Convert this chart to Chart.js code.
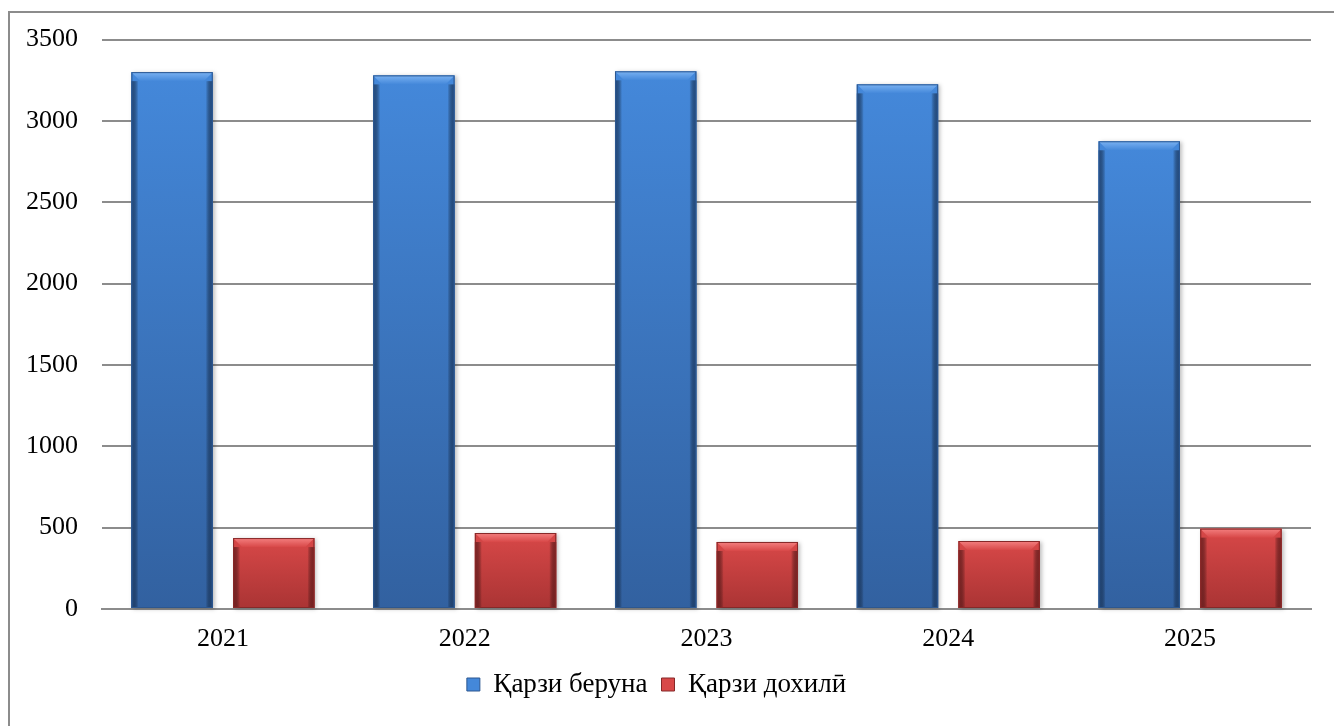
<!DOCTYPE html>
<html>
<head>
<meta charset="utf-8">
<script src="https://cdn.jsdelivr.net/npm/chart.js@4/dist/chart.umd.min.js"></script>
<style>
html,body{margin:0;padding:0;background:#fff;}
#wrap{width:1334px;height:726px;position:relative;}
</style>
</head>
<body>
<div id="wrap"><canvas id="c" width="1334" height="726"></canvas></div>
<script>
const categories = ['2021', '2022', '2023', '2024', '2025'];
const seriesNames = ['Қарзи беруна', 'Қарзи дохилӣ'];
const externalDebt = [3300, 3280, 3305, 3225, 2875];
const domesticDebt = [436, 467, 412, 418, 494];
const yTicks = [0, 500, 1000, 1500, 2000, 2500, 3000, 3500];

const FONT = '"Liberation Serif", "Times New Roman", serif';

const palettes = [
  {top: '#4488da', bottom: '#3261a0', light: '#7ab2f2', dark: '#264f86', edge: '#2c5790'},
  {top: '#d84848', bottom: '#aa3434', light: '#f48080', dark: '#862626', edge: '#862828'}
];

const frame = {
  id: 'frame',
  beforeDraw(chart) {
    const c = chart.ctx;
    c.save();
    c.fillStyle = '#fff';
    c.fillRect(0, 0, chart.width, chart.height);
    c.strokeStyle = '#8c8c8c';
    c.lineWidth = 2;
    c.strokeRect(9, 12, chart.width + 20, chart.height + 20);
    c.restore();
  }
};

const bevel = {
  id: 'bevel',
  afterDatasetsDraw(chart) {
    const c = chart.ctx;
    chart.data.datasets.forEach((ds, i) => {
      const meta = chart.getDatasetMeta(i);
      const p = palettes[i];
      meta.data.forEach(bar => {
        const w = bar.width;
        const l = bar.x - w / 2, r = bar.x + w / 2;
        const t = bar.y, b = bar.base;
        const h = b - t;
        const bv = Math.min(9, h / 4);
        c.save();
        c.shadowColor = 'rgba(0,0,0,0.25)';
        c.shadowBlur = 4;
        c.shadowOffsetX = 2;
        c.shadowOffsetY = 1;
        let g = c.createLinearGradient(0, t, 0, b);
        g.addColorStop(0, p.top);
        g.addColorStop(1, p.bottom);
        c.fillStyle = g;
        c.fillRect(l, t, w, h);
        c.shadowColor = 'rgba(0,0,0,0)';
        g = c.createLinearGradient(l, 0, l + 7, 0);
        g.addColorStop(0, p.dark);
        g.addColorStop(1, 'rgba(0,0,0,0)');
        c.fillStyle = g;
        c.fillRect(l, t + bv, 7, h - bv);
        g = c.createLinearGradient(r - 7, 0, r, 0);
        g.addColorStop(0, 'rgba(0,0,0,0)');
        g.addColorStop(1, p.dark);
        c.fillStyle = g;
        c.fillRect(r - 7, t + bv, 7, h - bv);
        c.beginPath();
        c.moveTo(l, t);
        c.lineTo(r, t);
        c.lineTo(r - bv, t + bv);
        c.lineTo(l + bv, t + bv);
        c.closePath();
        g = c.createLinearGradient(0, t, 0, t + bv);
        g.addColorStop(0, p.light);
        g.addColorStop(1, p.top);
        c.fillStyle = g;
        c.fill();
        c.strokeStyle = p.edge;
        c.lineWidth = 1;
        c.strokeRect(l + 0.5, t + 0.5, w - 1, h - 1);
        c.restore();
      });
    });
  }
};

new Chart(document.getElementById('c'), {
  type: 'bar',
  data: {
    labels: categories,
    datasets: [
      {label: seriesNames[0], data: externalDebt, backgroundColor: palettes[0].top, borderWidth: 0},
      {label: seriesNames[1], data: domesticDebt, backgroundColor: palettes[1].top, borderWidth: 0}
    ]
  },
  options: {
    responsive: false,
    animation: false,
    devicePixelRatio: 1,
    categoryPercentage: 0.841,
    barPercentage: 0.80,
    layout: {padding: {left: 2, right: 23, top: 38, bottom: 18}},
    plugins: {
      legend: {
        position: 'bottom',
        labels: {
          usePointStyle: true,
          pointStyle: 'rect',
          pointStyleWidth: 13,
          boxHeight: 13,
          color: '#000',
          padding: 14,
          font: {family: FONT, size: 27, lineHeight: 1},
          generateLabels(chart) {
            return chart.data.datasets.map((ds, i) => ({
              text: ds.label,
              fillStyle: palettes[i].top,
              strokeStyle: palettes[i].edge,
              lineWidth: 1,
              pointStyle: 'rect',
              datasetIndex: i,
              fontColor: '#000'
            }));
          }
        }
      },
      tooltip: {enabled: false}
    },
    scales: {
      x: {
        grid: {display: false, drawTicks: false},
        border: {display: true, color: '#8c8c8c', width: 2},
        ticks: {color: '#000', padding: 15, font: {family: FONT, size: 26}},
        afterFit(axis) { axis.height = 48; }
      },
      y: {
        min: 0,
        max: 3500,
        afterBuildTicks(axis) { axis.ticks = yTicks.map(v => ({value: v})); },
        grid: {color: '#8c8c8c', lineWidth: 2, drawTicks: false},
        border: {display: false},
        ticks: {color: '#000', padding: 24, font: {family: FONT, size: 26}, callback: v => String(v)}
      }
    }
  },
  plugins: [frame, bevel]
});
</script>
</body>
</html>
